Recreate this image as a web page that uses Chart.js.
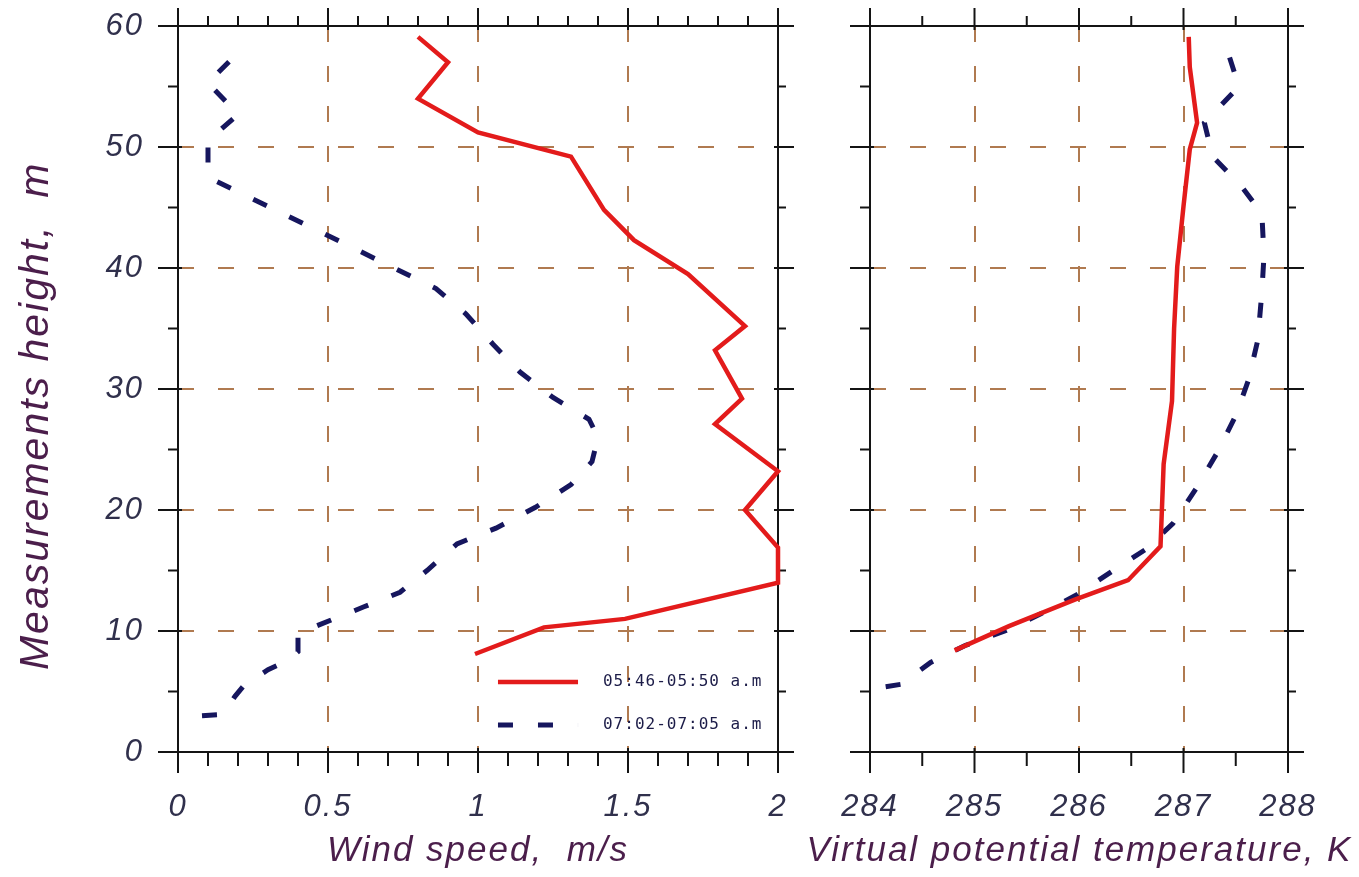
<!DOCTYPE html>
<html>
<head>
<meta charset="utf-8">
<script src="https://cdn.jsdelivr.net/npm/chart.js@4.4.0/dist/chart.umd.min.js"></script>
<style>
  html, body { margin: 0; padding: 0; background: #fff; }
  #wrap { position: relative; width: 1359px; height: 877px; }
  #wind { position: absolute; left: 0; top: 0; }
  #temp { position: absolute; left: 800px; top: 0; }
</style>
</head>
<body>
<div id="wrap">
  <canvas id="wind" width="800" height="877"></canvas>
  <canvas id="temp" width="559" height="877"></canvas>
</div>
<script>
// profiles, bottom to top (height in m)
const seriesNames = ['05:46-05:50 a.m', '07:02-07:05 a.m'];

const heightWindEarly = [8.1, 10.3, 11.0, 14.0, 16.9, 20.0, 23.2, 27.1, 29.2, 33.2, 35.2, 39.5, 42.3, 44.8, 49.2, 51.2, 54.0, 57.0, 59.1];
const windEarly       = [0.99, 1.22, 1.49, 2.0, 2.0, 1.89, 2.0, 1.79, 1.88, 1.79, 1.89, 1.70, 1.52, 1.42, 1.31, 1.0, 0.8, 0.9, 0.8];

const heightWindLate = [3.0, 3.1, 4.6, 5.5, 6.8, 7.6, 8.3, 9.8, 11.0, 12.0, 13.2, 15.0, 17.2, 18.5, 20.2, 22.1, 24.0, 26.0, 27.5, 29.3, 31.4, 33.7, 36.2, 38.3, 42.8, 47.5, 50.5, 52.7, 55.3, 57.8];
const windLate       = [0.08, 0.15, 0.19, 0.22, 0.30, 0.37, 0.40, 0.40, 0.52, 0.62, 0.74, 0.83, 0.93, 1.06, 1.19, 1.31, 1.38, 1.40, 1.37, 1.25, 1.14, 1.05, 0.96, 0.86, 0.49, 0.10, 0.10, 0.20, 0.10, 0.20];

const heightTempEarly = [8.4, 10.4, 12.6, 14.2, 17.0, 23.8, 29.0, 35.0, 40.1, 45.1, 49.8, 52.0, 56.6, 59.1];
const tempEarly       = [284.81, 285.33, 285.96, 286.47, 286.78, 286.81, 286.89, 286.91, 286.94, 287.0, 287.06, 287.13, 287.06, 287.05];

const heightTempLate = [5.4, 5.6, 7.4, 8.8, 10.0, 11.4, 13.0, 14.9, 16.7, 18.9, 21.9, 24.7, 27.8, 30.7, 34.0, 38.0, 41.0, 44.5, 46.8, 49.2, 52.0, 55.0, 58.5];
const tempLate       = [284.15, 284.3, 284.58, 284.91, 285.29, 285.63, 285.98, 286.31, 286.63, 286.9, 287.13, 287.32, 287.5, 287.62, 287.71, 287.75, 287.77, 287.75, 287.55, 287.28, 287.2, 287.53, 287.4];

const heightTicks = [0, 10, 20, 30, 40, 50, 60];
const windTicks = [0, 0.5, 1, 1.5, 2];
const tempTicks = [284, 285, 286, 287, 288];

const gridColor = '#b07a50';
const labelColor = '#30304c';
const titleColor = '#4b1e4b';
const titleFont = { size: 35, style: 'italic', weight: 'normal', lineHeight: 1 };

Chart.defaults.font.family = '"Liberation Sans", Arial, sans-serif';

const pts = (xs, ys) => xs.map((v, i) => ({ x: v, y: ys[i] }));

function earlySet(xs, ys) {
  return { label: seriesNames[0], data: pts(xs, ys), showLine: true, borderColor: '#e31b1b',
           borderWidth: 4.5, pointRadius: 0, tension: 0, clip: false };
}
function lateSet(xs, ys) {
  return { label: seriesNames[1], data: pts(xs, ys), showLine: true, borderColor: '#16165e',
           borderWidth: 5, borderDash: [15, 25], pointRadius: 0, tension: 0, clip: false };
}

function gridFor(ticks) {
  return {
    color: c => (c.index === 0 || c.index === ticks.length - 1) ? 'rgba(0,0,0,0)' : gridColor,
    lineWidth: 2,
    drawTicks: false
  };
}

// fixed axis sizes, and no extra padding asked for by the labels
function pinSize(s, key, size) {
  s[key] = size;
  s.paddingTop = s.paddingBottom = s.paddingLeft = s.paddingRight = 0;
}

function axisX(ticks, title, height) {
  return {
    type: 'linear', position: 'bottom',
    min: ticks[0], max: ticks[ticks.length - 1],
    afterBuildTicks: s => { s.ticks = ticks.map(v => ({ value: v })); },
    afterFit: s => pinSize(s, 'height', height),
    ticks: { color: labelColor, padding: 40, maxRotation: 0, autoSkip: false,
             callback: v => String(v), font: { size: 31, style: 'italic', lineHeight: 1 } },
    grid: gridFor(ticks),
    border: { display: false, dash: [16, 24] },
    title: { display: !!title, text: title || '', color: titleColor, padding: { top: 0, bottom: 8 }, font: titleFont }
  };
}

function axisY(width, showLabels) {
  return {
    type: 'linear', position: 'left',
    min: heightTicks[0], max: heightTicks[heightTicks.length - 1],
    afterBuildTicks: s => { s.ticks = heightTicks.map(v => ({ value: v })); },
    afterFit: s => pinSize(s, 'width', width),
    ticks: { display: showLabels, color: labelColor, padding: 34,
             callback: v => String(v), font: { size: 31, style: 'italic', lineHeight: 1 } },
    grid: gridFor(heightTicks),
    border: { display: false, dash: [16, 24] },
    title: { display: showLabels, text: 'Measurements height,  m    ', color: titleColor,
             padding: { top: 16, bottom: 0 }, font: { size: 41, style: 'italic', lineHeight: 1 } }
  };
}

// empty axis that only reserves room on the right of the plot
function spacerRight(width) {
  return {
    type: 'linear', position: 'right', display: true,
    afterFit: s => pinSize(s, 'width', width),
    ticks: { display: false },
    grid: { display: false },
    border: { display: false }
  };
}

// wider letter spacing like the original lettering
const spacingPlugin = {
  id: 'spacing',
  beforeUpdate(chart) { chart.ctx.letterSpacing = '2px'; },
  beforeDraw(chart) { chart.ctx.letterSpacing = '2px'; }
};

// box round the plot area with major and minor tick marks on all four sides
const framePlugin = {
  id: 'frame',
  beforeDatasetsDraw(chart, args, opts) {
    const { ctx, chartArea: a, scales: { x, y } } = chart;
    ctx.save();
    ctx.strokeStyle = '#141414';
    ctx.lineWidth = 2;
    ctx.setLineDash([]);
    ctx.strokeRect(a.left, a.top, a.width, a.height);
    const seg = (x1, y1, x2, y2) => { ctx.beginPath(); ctx.moveTo(x1, y1); ctx.lineTo(x2, y2); ctx.stroke(); };
    const marks = (scale, minor) => {
      const major = scale.ticks.map(t => t.value);
      const out = major.map(v => ({ v, major: true }));
      for (let i = 0; scale.min + i * minor <= scale.max + 1e-9; i++) {
        const v = scale.min + i * minor;
        if (!major.some(m => Math.abs(m - v) < 1e-6)) out.push({ v, major: false });
      }
      return out;
    };
    marks(x, opts.xMinor).forEach(m => {
      const px = x.getPixelForValue(m.v);
      seg(px, a.bottom - (m.major ? 4 : 0), px, a.bottom + (m.major ? 21 : 14));
      seg(px, a.top + (m.major ? 4 : 0), px, a.top - (m.major ? 18 : 10));
    });
    marks(y, opts.yMinor).forEach(m => {
      const py = y.getPixelForValue(m.v);
      seg(a.left + (m.major ? 4 : 0), py, a.left - (m.major ? 20 : 10), py);
      seg(a.right - (m.major ? 4 : 0), py, a.right + (m.major ? 16 : 8), py);
    });
    ctx.restore();
  }
};

// legend drawn inside the plot area, lower right
const legendPlugin = {
  id: 'insideLegend',
  afterDraw(chart, args, opts) {
    if (!opts.show) return;
    const { ctx, chartArea: a } = chart;
    chart.data.datasets.forEach((ds, i) => {
      const y = a.top + a.height * opts.rows[i];
      const x0 = a.left + a.width * opts.lineStart;
      const x1 = a.left + a.width * opts.lineEnd;
      ctx.save();
      ctx.strokeStyle = ds.borderColor;
      ctx.lineWidth = ds.borderWidth;
      ctx.setLineDash(ds.borderDash || []);
      ctx.beginPath(); ctx.moveTo(x0, y); ctx.lineTo(x1, y); ctx.stroke();
      ctx.setLineDash([]);
      ctx.letterSpacing = '1px';
      ctx.font = '16px "DejaVu Sans Mono", monospace';
      ctx.fillStyle = '#1c1c48';
      ctx.textBaseline = 'middle';
      ctx.fillText(ds.label, a.left + a.width * opts.textStart, y);
      ctx.restore();
    });
  }
};

function makeChart(id, datasets, scales, padding, xMinor, showLegend, bottomTitle) {
  return new Chart(document.getElementById(id), {
    type: 'scatter',
    data: { datasets },
    options: {
      responsive: false,
      animation: false,
      layout: { padding },
      scales,
      plugins: {
        legend: { display: false },
        tooltip: { enabled: false },
        title: { display: !!bottomTitle, text: bottomTitle || '', position: 'bottom', color: titleColor,
                 font: titleFont, padding: { top: 0, bottom: 8 } },
        frame: { xMinor, yMinor: 5 },
        insideLegend: { show: showLegend, rows: [0.9036, 0.9628], lineStart: 0.5333, lineEnd: 0.6667, textStart: 0.7083 }
      }
    },
    plugins: [spacingPlugin, framePlugin, legendPlugin]
  });
}

makeChart('wind',
  [earlySet(windEarly, heightWindEarly), lateSet(windLate, heightWindLate)],
  { x: axisX(windTicks, 'Wind speed,  m/s', 125), y: axisY(178, true) },
  { top: 26, right: 22, left: 0, bottom: 0 }, 0.1, true, null);

// the long title here is wider than the plot, so it goes in the full-width chart title box
makeChart('temp',
  [earlySet(tempEarly, heightTempEarly), lateSet(tempLate, heightTempLate)],
  { x: axisX(tempTicks, null, 82), y: axisY(70, false), yPad: spacerRight(71) },
  { top: 26, right: 0, left: 0, bottom: 0 }, 0.5, false, 'Virtual potential temperature, K');
</script>
</body>
</html>
